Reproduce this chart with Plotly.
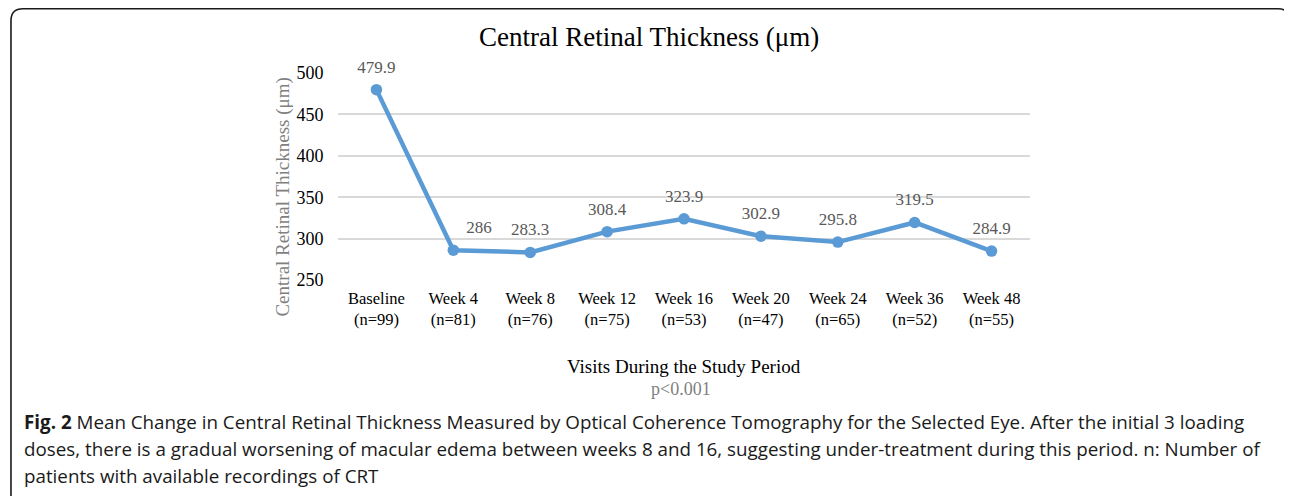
import plotly.graph_objects as go

categories = ["Baseline<br>(n=99)", "Week 4<br>(n=81)", "Week 8<br>(n=76)", "Week 12<br>(n=75)",
              "Week 16<br>(n=53)", "Week 20<br>(n=47)", "Week 24<br>(n=65)", "Week 36<br>(n=52)",
              "Week 48<br>(n=55)"]
crt_values = [479.9, 286, 283.3, 308.4, 323.9, 302.9, 295.8, 319.5, 284.9]
value_labels = ["479.9", "286", "283.3", "308.4", "323.9", "302.9", "295.8", "319.5", "284.9"]
label_positions = ["top center", "top right", "top center", "top center", "top center",
                   "top center", "top center", "top center", "top center"]
y_ticks = [250, 300, 350, 400, 450, 500]

OFF = 8  # page body margin
W, H = 1292 - OFF, 496 - OFF
# plot area in page coordinates
PL, PR, PT, PB = 337.5, 1030.5, 73, 280
L, R, T, B = PL - OFF, PR - OFF, PT - OFF, PB - OFF
pw, ph = R - L, B - T

def px(x):  # page x -> paper
    return (x - OFF - L) / pw

def py(y):  # page y -> paper
    return (B - (y - OFF)) / ph

serif = "Liberation Serif, Times New Roman, serif"
sans = "Open Sans, Noto Sans, sans-serif"

xs = list(range(len(categories)))
fig = go.Figure()
fig.add_trace(go.Scatter(
    x=xs, y=crt_values,
    mode="lines+markers",
    line=dict(color="#5B9BD5", width=4.5),
    marker=dict(color="#5B9BD5", size=11.5),
    cliponaxis=False, hoverinfo="skip", showlegend=False,
))
# data labels
fig.add_trace(go.Scatter(
    x=xs, y=crt_values,
    mode="markers+text",
    marker=dict(color="rgba(0,0,0,0)", size=19),
    text=value_labels, textposition=label_positions,
    textfont=dict(family=serif, size=17, color="#595959"),
    cliponaxis=False, hoverinfo="skip", showlegend=False,
))

# rounded frame
x0, x1, y0, y1, r = 10, 1291, 8.8, 530, 12
path = (f"M {px(x0+r)},{py(y0)} L {px(x1-r)},{py(y0)} "
        f"Q {px(x1)},{py(y0)} {px(x1)},{py(y0+r)} L {px(x1)},{py(y1-r)} "
        f"Q {px(x1)},{py(y1)} {px(x1-r)},{py(y1)} L {px(x0+r)},{py(y1)} "
        f"Q {px(x0)},{py(y1)} {px(x0)},{py(y1-r)} L {px(x0)},{py(y0+r)} "
        f"Q {px(x0)},{py(y0)} {px(x0+r)},{py(y0)} Z")
fig.add_shape(type="path", path=path, xref="paper", yref="paper",
              line=dict(color="#1a1a1a", width=1.6), layer="above")

cap_font = dict(family=sans, size=18.8, color="#1a1a1a")
annotations = [
    dict(text="Central Retinal Thickness (μm)", x=px(649), y=py(37), xanchor="center", yanchor="middle",
         font=dict(family=serif, size=27, color="#000000")),
    dict(text="Visits During the Study Period", x=px(684), y=py(366), xanchor="center", yanchor="middle",
         font=dict(family=serif, size=19, color="#000000")),
    dict(text="p<0.001", x=px(681), y=py(389), xanchor="center", yanchor="middle",
         font=dict(family=serif, size=18, color="#808080")),
    dict(text="Central Retinal Thickness (μm)", x=px(282), y=py(197), xanchor="center", yanchor="middle",
         textangle=-90, font=dict(family=serif, size=19, color="#7f7f7f")),
    dict(text="<b>Fig. 2</b> Mean Change in Central Retinal Thickness Measured by Optical Coherence Tomography for the Selected Eye. After the initial 3 loading",
         x=px(21), y=py(422), xanchor="left", yanchor="middle", font=cap_font),
    dict(text="doses, there is a gradual worsening of macular edema between weeks 8 and 16, suggesting under-treatment during this period. n: Number of",
         x=px(21), y=py(449), xanchor="left", yanchor="middle", font=cap_font),
    dict(text="patients with available recordings of CRT",
         x=px(21), y=py(476), xanchor="left", yanchor="middle", font=cap_font),
]
for a in annotations:
    a.update(xref="paper", yref="paper", showarrow=False)

fig.update_layout(
    width=W, height=H,
    margin=dict(l=L, r=W - R, t=T, b=H - B, pad=0),
    paper_bgcolor="white", plot_bgcolor="white",
    annotations=annotations,
    xaxis=dict(
        range=[-0.5, len(categories) - 0.5],
        tickmode="array", tickvals=xs, ticktext=categories,
        tickfont=dict(family=serif, size=16.5, color="#000000"),
        showgrid=False, zeroline=False, showline=False,
        ticks="outside", ticklen=3, tickcolor="rgba(0,0,0,0)",
    ),
    yaxis=dict(
        range=[250, 500], tickvals=y_ticks,
        tickfont=dict(family=serif, size=18, color="#000000"),
        showgrid=True, gridcolor="#D9D9D9", gridwidth=1.5,
        zeroline=False, showline=False, ticks="outside", ticklen=10, tickcolor="rgba(0,0,0,0)",
    ),
)

fig.write_html("out.html")
